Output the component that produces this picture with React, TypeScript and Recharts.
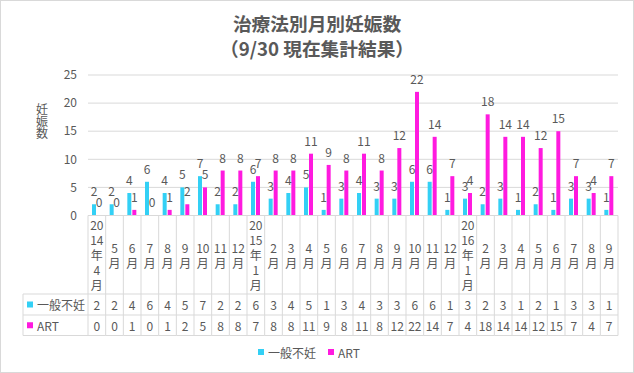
import React from 'react';
import { BarChart, Bar, XAxis, YAxis, CartesianGrid, LabelList, Legend, Customized } from 'recharts';

const categories = ["2014年4月","5月","6月","7月","8月","9月","10月","11月","12月","2015年1月","2月","3月","4月","5月","6月","7月","8月","9月","10月","11月","12月","2016年1月","2月","3月","4月","5月","6月","7月","8月","9月"];
const general = [2,2,4,6,4,5,7,2,2,6,3,4,5,1,3,4,3,3,6,6,1,3,2,3,1,2,1,3,3,1];
const art = [0,0,1,0,1,2,5,8,8,7,8,8,11,9,8,11,8,12,22,14,7,4,18,14,14,12,15,7,4,7];
const yTicks = [0,5,10,15,20,25];
const seriesNames = ["一般不妊","ART"];
const titleLines = ["治療法別月別妊娠数","（9/30 現在集計結果）"];
const yLabel = "妊娠数";

const data = categories.map((c, i) => ({ idx: i, cat: c, general: general[i], art: art[i] }));

const W = 634;
const H = 373;
const M = { top: 75, right: 16, bottom: 11, left: 0 };
const Y_AXIS_W = 88;
const PLOT_W = W - M.left - M.right - Y_AXIS_W;
const COL_W = PLOT_W / categories.length;
const FONT = '"Noto Sans CJK JP", "Noto Sans", sans-serif';
const TXT = '#595959';
const BORDER = '#D9D9D9';
const C1 = '#33D0F5';
const C2 = '#FF1ADF';
const COLORS = [C1, C2];
const ROW_CAT = 78.5;
const ROW_1 = 99.5;
const ROW_2 = 120;
const HEADER_W = 65;

function splitLabel(s: string): string[] {
  const out: string[] = [];
  let digits = '';
  for (const ch of s) {
    if (/[0-9]/.test(ch)) {
      digits += ch;
      if (digits.length === 2) { out.push(digits); digits = ''; }
    } else {
      if (digits) { out.push(digits); digits = ''; }
      out.push(ch);
    }
  }
  if (digits) out.push(digits);
  return out;
}

const TableTick = (props: any) => {
  const { x, y, payload } = props;
  const i = Number(payload.value);
  const l = x - COL_W / 2;
  const r = x + COL_W / 2;
  const lines = splitLabel(categories[i]);
  const cy = y + ROW_CAT / 2;
  const last = i === categories.length - 1;
  const hl = HEADER_W;
  return (
    <g fontFamily={FONT} fontSize={12} fill={TXT}>
      <line x1={l} x2={l} y1={y} y2={y + ROW_2} stroke={BORDER} />
      {last && <line x1={r} x2={r} y1={y} y2={y + ROW_2} stroke={BORDER} />}
      <line x1={l} x2={r} y1={y + ROW_CAT} y2={y + ROW_CAT} stroke={BORDER} />
      <line x1={l} x2={r} y1={y + ROW_1} y2={y + ROW_1} stroke={BORDER} />
      <line x1={l} x2={r} y1={y + ROW_2} y2={y + ROW_2} stroke={BORDER} />
      {lines.map((t, j) => (
        <text key={j} x={x} y={cy + (j - (lines.length - 1) / 2) * 15} textAnchor="middle" dominantBaseline="central">{t}</text>
      ))}
      <text x={x} y={y + (ROW_CAT + ROW_1) / 2} textAnchor="middle" dominantBaseline="central">{general[i]}</text>
      <text x={x} y={y + (ROW_1 + ROW_2) / 2} textAnchor="middle" dominantBaseline="central">{art[i]}</text>
      {i === 0 && (
        <g>
          <line x1={l - hl} x2={l} y1={y + ROW_CAT} y2={y + ROW_CAT} stroke={BORDER} />
          <line x1={l - hl} x2={l} y1={y + ROW_1} y2={y + ROW_1} stroke={BORDER} />
          <line x1={l - hl} x2={l} y1={y + ROW_2} y2={y + ROW_2} stroke={BORDER} />
          <line x1={l - hl} x2={l - hl} y1={y + ROW_CAT} y2={y + ROW_2} stroke={BORDER} />
          <rect x={l - hl + 4} y={y + (ROW_CAT + ROW_1) / 2 - 3} width={6} height={6} fill={C1} />
          <text x={l - hl + 14} y={y + (ROW_CAT + ROW_1) / 2} dominantBaseline="central">{seriesNames[0]}</text>
          <rect x={l - hl + 4} y={y + (ROW_1 + ROW_2) / 2 - 3} width={6} height={6} fill={C2} />
          <text x={l - hl + 14} y={y + (ROW_1 + ROW_2) / 2} dominantBaseline="central">{seriesNames[1]}</text>
        </g>
      )}
    </g>
  );
};

const Decor = () => (
  <g fontFamily={FONT}>
    <rect x={0.5} y={0.5} width={W - 1} height={H - 1} fill="none" stroke={BORDER} />
    <text x={W / 2} y={22} textAnchor="middle" dominantBaseline="central" fontSize={18.7} fontWeight="bold" fill={TXT}>{titleLines[0]}</text>
    <text x={W / 2} y={47} textAnchor="middle" dominantBaseline="central" fontSize={18.7} fontWeight="bold" fill={TXT}>{titleLines[1]}</text>
    <text x={42} y={121.5} textAnchor="middle" style={{ writingMode: 'vertical-rl' }} fontSize={12} fill={TXT}>{yLabel}</text>
  </g>
);

const LegendContent = () => (
  <div style={{ display: 'flex', justifyContent: 'center', alignItems: 'center', height: 20, fontSize: 12, fontFamily: FONT, color: TXT }}>
    {seriesNames.map((n, k) => (
      <span key={n} style={{ display: 'inline-flex', alignItems: 'center', marginRight: k === 0 ? 12 : 0 }}>
        <span style={{ display: 'inline-block', width: 6, height: 6, background: COLORS[k], marginRight: 4 }} />
        {n}
      </span>
    ))}
  </div>
);

const zeroMin = (v: any) => (v === 0 ? 0.01 : 0);

export default function App() {
  return (
    <div style={{ position: 'absolute', left: 0, top: 0, width: W, height: H, background: '#fff', fontFamily: FONT }}>
      <BarChart width={W} height={H} data={data} margin={M} barGap={1} style={{ fontFamily: FONT }}>
        <Customized component={Decor} />
        <CartesianGrid vertical={false} stroke={BORDER} />
        <YAxis
          width={Y_AXIS_W}
          domain={[0, 25]}
          ticks={yTicks}
          axisLine={false}
          tickLine={false}
          tickSize={0}
          tickMargin={11}
          tick={{ fill: TXT, fontSize: 12, fontFamily: FONT }}
        />
        <XAxis
          dataKey="idx"
          type="category"
          height={H - M.top - M.bottom - 20 - 140.5}
          axisLine={{ stroke: BORDER }}
          tickLine={false}
          tickSize={0}
          tickMargin={0}
          interval={0}
          tick={<TableTick />}
        />
        <Bar dataKey="general" name={seriesNames[0]} fill={C1} barSize={4} minPointSize={zeroMin} isAnimationActive={false}>
          <LabelList dataKey="general" position="top" offset={8} fill={TXT} fontSize={12} fontFamily={FONT} />
        </Bar>
        <Bar dataKey="art" name={seriesNames[1]} fill={C2} barSize={4} minPointSize={zeroMin} isAnimationActive={false}>
          <LabelList dataKey="art" position="top" offset={8} fill={TXT} fontSize={12} fontFamily={FONT} />
        </Bar>
        <Legend
          verticalAlign="bottom"
          align="center"
          wrapperStyle={{ height: 20 }}
          content={<LegendContent />}
        />
      </BarChart>
    </div>
  );
}
